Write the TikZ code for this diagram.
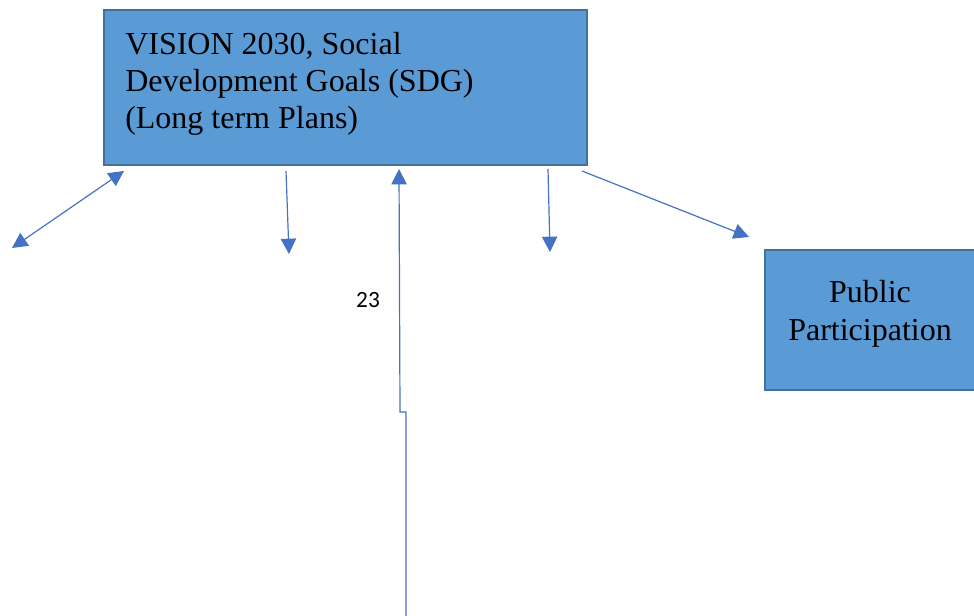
\documentclass[tikz,border=0pt]{standalone}
\usepackage{fontspec}
\setmainfont{Liberation Serif}
\newfontfamily\calibri{Carlito}
\usetikzlibrary{arrows.meta}
\definecolor{boxfill}{HTML}{5B9BD5}
\definecolor{boxline}{HTML}{41719C}
\definecolor{arrowblue}{HTML}{4472C4}

\begin{document}
\begin{tikzpicture}
    [x=0.75pt, y=-0.75pt, >={Triangle[length=11.5pt, width=11.5pt]},
     bluebox/.style={rectangle, draw=boxline, fill=boxfill, line width=1.5pt},
     boxtext/.style={inner sep=0pt},
     link/.style={draw=arrowblue, line width=0.9pt}]

    \useasboundingbox (0, 0) rectangle (974, 616);

    \node[bluebox, minimum width=362.25pt, minimum height=116.25pt] (vision) at (345.5, 87.5) {};
    \node[boxtext, anchor=north west, align=left, font=\fontsize{24}{27.75}\selectfont] (visiontext) at (125, 32) {VISION 2030, Social\\Development Goals (SDG)\\(Long term Plans)};

    \node[bluebox, minimum width=161.25pt, minimum height=105pt] (public) at (872.5, 320) {};
    \node[boxtext, align=center, font=\fontsize{24}{28.5}\selectfont] (publictext) at (870, 314) {Public\\Participation};

    \node[font=\calibri\fontsize{17.5}{20}\selectfont] (pagenum) at (368, 300) {23};

    \coordinate (leftend) at (12, 248);
    \coordinate (midleft) at (289, 254);
    \coordinate (midright) at (550, 252);
    \coordinate (bottomend) at (406, 616);

    \draw[link, <->] ([shift={(21,5)}]vision.south west) -- (leftend);
    \draw[link, ->] ([shift={(183,5)}]vision.south west) -- (midleft);
    \draw[link, ->] (bottomend) -- ++(0, -204) -- ++(-6, 0) -- ([shift={(296,3)}]vision.south west);
    \draw[link, ->] ([shift={(445,3)}]vision.south west) -- (midright);
    \draw[link, ->] ([shift={(-6,5)}]vision.south east) -- ([shift={(-15,-12)}]public.north west);
\end{tikzpicture}
\end{document}
